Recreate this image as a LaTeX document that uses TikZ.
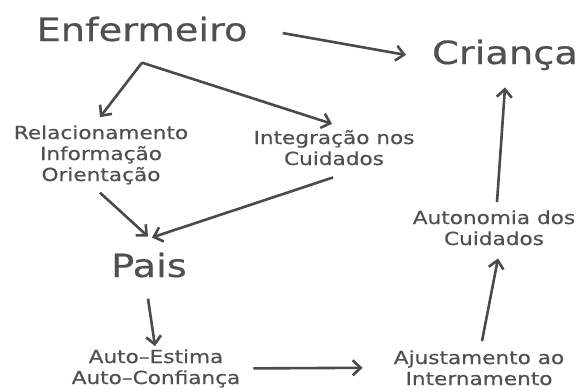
\documentclass[tikz,border=0pt]{standalone}
\usepackage{fontspec}
\setmainfont{DejaVu Sans}[FakeStretch=1.2,FakeBold=0.5]
\usetikzlibrary{arrows.meta}
\definecolor{textogray}{HTML}{505050}
\definecolor{setagray}{HTML}{4A4A4A}

\begin{document}
\begin{tikzpicture}[x=1pt,y=-1pt,
  titulo/.style={font=\fontsize{32}{36}\selectfont, text=textogray, anchor=base},
  rotulo/.style={font=\fontsize{18}{21}\selectfont, text=textogray, align=center, anchor=base},
  seta/.style={draw=setagray, line width=2.6pt, -{Straight Barb[length=8pt,width=15pt]}}]
\tikzstyle{every node}+=[inner sep=0pt]
\useasboundingbox (0,0) rectangle (579,389);
\node [titulo] (enf) at (142,41) {Enfermeiro};
\node [titulo] (cri) at (505,64) {Criança};
\node [titulo] (pais) at (149,277) {Pais};
\node [rotulo] (rel) at (101,181) {Relacionamento\\Informação\\Orientação};
\node [rotulo] (integ) at (334,165) {Integração nos\\Cuidados};
\node [rotulo] (auton) at (494,245) {Autonomia dos\\Cuidados};
\node [rotulo] (ajus) at (479,385) {Ajustamento ao\\Internamento};
\node [rotulo] (auto) at (156,384) {Auto–Estima\\Auto–Confiança};
\coordinate (split) at ([shift={(0,21)}]enf.south);
\draw [seta] ([shift={(35,4)}]enf.east) -- ([xshift=-26]cri.west);
\draw [seta] (split) -- ([shift={(-1,-8)}]rel.north);
\draw [seta] (split) -- ([shift={(-2,-6)}]integ.north);
\draw [seta] ([shift={(-1,8)}]rel.south) -- ([shift={(-1,-16)}]pais.north);
\draw [seta] ([shift={(-1,12)}]integ.south) -- ([shift={(3,-15)}]pais.north);
\draw [seta] ([shift={(-1,21)}]pais.south) -- ([shift={(-1,-3)}]auto.north);
\draw [seta] ([shift={(13,0)}]auto.east) -- ([xshift=-31]ajus.west);
\draw [seta] ([shift={(3,-9)}]ajus.north) -- ([shift={(4,13)}]auton.south);
\draw [seta] ([shift={(3,-8)}]auton.north) -- ([shift={(0,17)}]cri.south);
\end{tikzpicture}
\end{document}
